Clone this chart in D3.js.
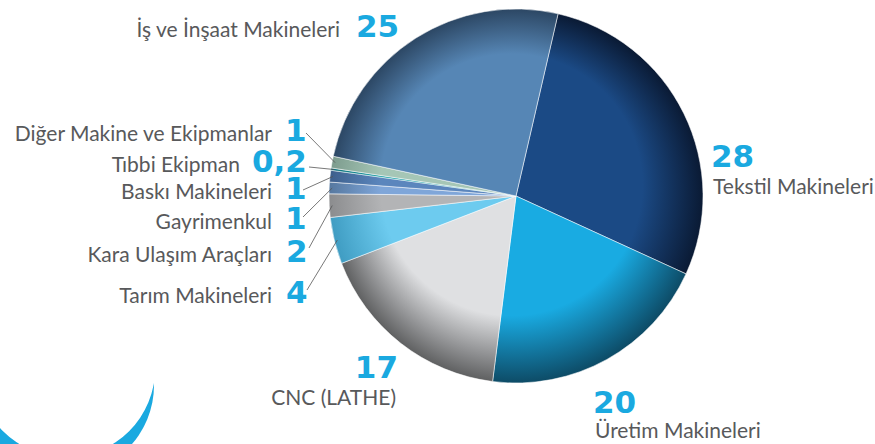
<!DOCTYPE html>
<html><head><meta charset="utf-8">
<script src="https://cdn.jsdelivr.net/npm/d3@7"></script>
<style>
html,body{margin:0;padding:0;background:#fff;}
svg{display:block;}
</style></head>
<body>
<svg id="chart" width="875" height="444"></svg>
<script>
// ---- data ----
const categories = ["Tekstil Makineleri","Üretim Makineleri","CNC (LATHE)","Tarım Makineleri","Kara Ulaşım Araçları","Gayrimenkul","Baskı Makineleri","Tıbbi Ekipman","Diğer Makine ve Ekipmanlar","İş ve İnşaat Makineleri"];
const values = [28,20,17,4,2,1,1,0.2,1,25];
const valueLabels = ["28","20","17","4","2","1","1","0,2","1","25"];

// ---- styles ----
const baseColors = ["#1b4a85","#19abe2","#dfe0e2","#6dcbef","#b3b4b6","#7fa6d9","#5b86bd","#1a9ea6","#a5c6b6","#5686b5"];
const darkColors = ["#0a1a34","#0d4b66","#5f6061","#3f9cc2","#8b8c8e","#56789f","#3d5f8c","#12707a","#7d9c8e","#2c4764"];
const blue = "#1aa9e0", grey = "#58595b";

const svg = d3.select("#chart");
const cx = 516, cy = 196, R = 187;
const start = 13 * Math.PI / 180;

const pie = d3.pie().sort(null).value(d => d).startAngle(start).endAngle(start + 2 * Math.PI);
const arcs = pie(values);
const arc = d3.arc().innerRadius(0).outerRadius(R);

const defs = svg.append("defs");
baseColors.forEach((c, i) => {
  const g = defs.append("radialGradient").attr("id", "g" + i)
    .attr("gradientUnits", "userSpaceOnUse")
    .attr("cx", 0).attr("cy", 0).attr("r", R)
    .attr("fx", -R * 0.08).attr("fy", -R * 0.2);
  g.append("stop").attr("offset", 0).attr("stop-color", c);
  g.append("stop").attr("offset", 0.7).attr("stop-color", c);
  g.append("stop").attr("offset", 0.88).attr("stop-color", d3.interpolateRgb(c, darkColors[i])(0.6));
  g.append("stop").attr("offset", 1).attr("stop-color", darkColors[i]);
});

// decorative crescent swoosh bottom-left
const oc = {x: 64.7, y: 385.3, r: 89.3};
const ic = {x: 66.1, y: 368.2, r: 89.1};
defs.append("clipPath").attr("id", "swclip")
  .append("circle").attr("cx", oc.x).attr("cy", oc.y).attr("r", oc.r);
svg.append("path")
  .attr("clip-path", "url(#swclip)")
  .attr("fill-rule", "evenodd")
  .attr("fill", blue)
  .attr("d", `M-40,250H300V480H-40Z M${ic.x - ic.r},${ic.y} a${ic.r},${ic.r} 0 1,0 ${2 * ic.r},0 a${ic.r},${ic.r} 0 1,0 ${-2 * ic.r},0Z`);

const g = svg.append("g").attr("transform", `translate(${cx},${cy})`);
g.selectAll("path.slice").data(arcs).enter().append("path")
  .attr("class", "slice")
  .attr("d", arc)
  .attr("fill", (d, i) => `url(#g${i})`)
  .attr("stroke", "rgba(255,255,255,0.75)")
  .attr("stroke-width", 0.7)
  .attr("stroke-linejoin", "round");

// ---- label layout ----
// [index, nameX, nameY, nameAnchor, numX, numY, numAnchor, leaderX, leaderY]
const layout = [
  [0, 713, 194, "start", 711, 167, "start", null, null],
  [1, 595, 438, "start", 593, 413, "start", null, null],
  [2, 396, 405, "end", 398, 378, "end", null, null],
  [3, 272, 303, "end", 286, 303, "start", 307, 290],
  [4, 272, 262, "end", 286, 262, "start", 309, 248],
  [5, 272, 229, "end", 285, 229, "start", 303, 217],
  [6, 272, 199, "end", 285, 199, "start", 303, 190],
  [7, 240, 172, "end", 252, 172, "start", 309, 167],
  [8, 272, 141, "end", 285, 141, "start", 306, 133],
  [9, 340, 37, "end", 356, 37, "start", null, null]
];

const labels = svg.append("g");
layout.forEach(l => {
  const i = l[0];
  labels.append("text")
    .attr("x", l[1]).attr("y", l[2]).attr("text-anchor", l[3])
    .attr("font-family", "Lato, 'Noto Sans', sans-serif")
    .attr("font-size", 21).attr("fill", grey)
    .text(categories[i]);
  labels.append("text")
    .attr("x", l[4]).attr("y", l[5]).attr("text-anchor", l[6])
    .attr("font-family", "'DejaVu Sans', Lato, sans-serif")
    .attr("font-weight", 700)
    .attr("font-size", 31).attr("fill", blue)
    .text(valueLabels[i]);
  if (l[7] !== null) {
    const a = (arcs[i].startAngle + arcs[i].endAngle) / 2;
    const rr = R - 3;
    labels.append("line")
      .attr("x1", l[7]).attr("y1", l[8])
      .attr("x2", cx + rr * Math.sin(a)).attr("y2", cy - rr * Math.cos(a))
      .attr("stroke", "#555").attr("stroke-width", 0.8);
  }
});
</script>
</body></html>
